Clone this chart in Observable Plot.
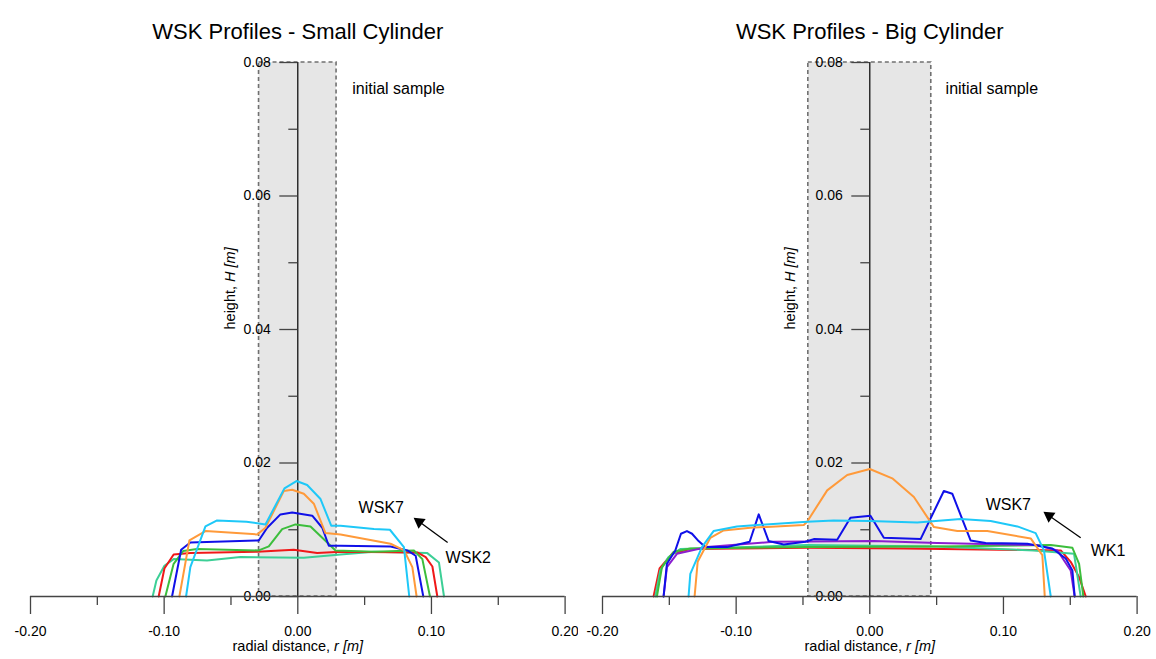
<!DOCTYPE html>
<html><head><meta charset="utf-8">
<script src="https://cdn.jsdelivr.net/npm/d3@7"></script>
<script src="https://cdn.jsdelivr.net/npm/@observablehq/plot@0.6"></script>
<style>
body{margin:0;background:#fff;}
#wrap{display:flex;width:1156px;height:659px;overflow:hidden;}
#wrap svg{display:block;flex:none;}
</style>
</head><body><div id="wrap"></div>
<script>
// ---------- data (radial distance r [m], height H [m]) ----------
const smallCyan = [[-0.0836,0],[-0.0804,0.0044],[-0.0691,0.0105],[-0.0604,0.0114],[-0.0384,0.0112],[-0.0242,0.0108],[-0.0100,0.0162],[-0.0010,0.0173],[0.0070,0.0167],[0.0170,0.0146],[0.0250,0.0106],[0.0320,0.0106],[0.0570,0.0101],[0.0689,0.0100],[0.0794,0.0074],[0.0834,0]];
const smallOrange = [[-0.0886,0],[-0.0811,0.0084],[-0.0691,0.0098],[-0.0304,0.0093],[-0.0242,0.0103],[-0.0105,0.0158],[-0.0042,0.0160],[0.0045,0.0154],[0.0120,0.0139],[0.0207,0.0095],[0.0320,0.0093],[0.0694,0.0079],[0.0796,0.0069],[0.0857,0.0044],[0.0889,0]];
const smallBlue = [[-0.0941,0],[-0.0873,0.0070],[-0.0804,0.0081],[-0.0292,0.0084],[-0.0229,0.0103],[-0.0130,0.0123],[-0.0042,0.0126],[0.0108,0.0121],[0.0183,0.0103],[0.0232,0.0076],[0.0320,0.0076],[0.0694,0.0075],[0.0820,0.0069],[0.0882,0.0061],[0.0939,0]];
const smallGreen = [[-0.0991,0],[-0.0929,0.0049],[-0.0858,0.0068],[-0.0754,0.0071],[-0.0292,0.0069],[-0.0217,0.0075],[-0.0117,0.0101],[-0.0017,0.0108],[0.0095,0.0105],[0.0183,0.0088],[0.0282,0.0069],[0.0570,0.0067],[0.0869,0.0069],[0.0932,0.0056],[0.0989,0]];
const smallRed = [[-0.1041,0],[-0.0998,0.0042],[-0.0929,0.0063],[-0.0804,0.0065],[-0.0304,0.0067],[-0.0030,0.0070],[0.0145,0.0065],[0.0320,0.0067],[0.0894,0.0066],[0.0957,0.0059],[0.1007,0.0045],[0.1044,0]];
const smallTeal = [[-0.1086,0],[-0.1058,0.0024],[-0.0998,0.0046],[-0.0929,0.0056],[-0.0679,0.0054],[-0.0429,0.0059],[0.0045,0.0058],[0.0320,0.0063],[0.0570,0.0067],[0.0969,0.0065],[0.1056,0.0051],[0.1094,0]];

const bigRed = [[-0.1618,0],[-0.1573,0.0042],[-0.1480,0.0064],[-0.1343,0.0071],[-0.0469,0.0073],[0.0255,0.0072],[0.1429,0.0069],[0.1503,0.0052],[0.1566,0.0029],[0.1616,0]];
const bigGreen = [[-0.1593,0],[-0.1555,0.0044],[-0.1468,0.0067],[-0.1343,0.0072],[-0.0469,0.0074],[0.0500,0.0075],[0.1354,0.0077],[0.1516,0.0073],[0.1566,0.0049],[0.1598,0]];
const bigTeal = [[-0.1605,0],[-0.1568,0.0039],[-0.1506,0.0059],[-0.1418,0.0071],[-0.0469,0.0077],[0.0500,0.0075],[0.1229,0.0069],[0.1528,0.0064],[0.1578,0]];
const bigPurple = [[-0.1543,0],[-0.1518,0.0044],[-0.1443,0.0064],[-0.1218,0.0074],[-0.0719,0.0082],[0.0030,0.0083],[0.0505,0.0080],[0.1254,0.0077],[0.1404,0.0069],[0.1503,0.0039],[0.1533,0]];
const bigBlue = [[-0.1543,0],[-0.1518,0.0049],[-0.1455,0.0069],[-0.1413,0.0094],[-0.1368,0.0098],[-0.1330,0.0094],[-0.1281,0.0083],[-0.1231,0.0074],[-0.1068,0.0074],[-0.0899,0.0082],[-0.0831,0.0123],[-0.0757,0.0083],[-0.0644,0.0078],[-0.0482,0.0082],[-0.0419,0.0086],[-0.0244,0.0085],[-0.0145,0.0118],[0.0005,0.0121],[0.0105,0.0088],[0.0380,0.0086],[0.0554,0.0158],[0.0617,0.0154],[0.0754,0.0084],[0.0867,0.0080],[0.1179,0.0079],[0.1366,0.0072],[0.1466,0.0057],[0.1516,0.0039],[0.1533,0]];
const bigOrange = [[-0.1311,0],[-0.1288,0.0052],[-0.1193,0.0088],[-0.1094,0.0099],[-0.0894,0.0103],[-0.0494,0.0107],[-0.0469,0.0112],[-0.0319,0.0159],[-0.0169,0.0182],[0.0000,0.0191],[0.0168,0.0177],[0.0330,0.0149],[0.0480,0.0104],[0.0655,0.0098],[0.0879,0.0098],[0.1204,0.0087],[0.1291,0.0062],[0.1309,0]];
const bigCyan = [[-0.1356,0],[-0.1343,0.0034],[-0.1256,0.0074],[-0.1169,0.0098],[-0.0994,0.0105],[-0.0469,0.0112],[-0.0270,0.0114],[0.0000,0.0113],[0.0355,0.0111],[0.0679,0.0116],[0.0904,0.0113],[0.1104,0.0105],[0.1241,0.0095],[0.1303,0.0069],[0.1354,0]];

const xMajor = [-0.2, -0.1, 0, 0.1, 0.2];
const xMinor = [-0.15, -0.05, 0.05, 0.15];
const xTickLabels = ["-0.20", "-0.10", "0.00", "0.10", "0.20"];
const yMajor = [0, 0.02, 0.04, 0.06, 0.08];
const yMinor = [0.01, 0.03, 0.05, 0.07];
const yTickLabels = ["0.00", "0.02", "0.04", "0.06", "0.08"];

const titles = ["WSK Profiles - Small Cylinder", "WSK Profiles - Big Cylinder"];
const sampleHalfWidth = [0.029, 0.046];
const sampleLabel = "initial sample";
const sampleLabelPos = [[0.0407, 0.0760], [0.0567, 0.0760]];
const annoLabelsSmall = ["WSK7", "WSK2"];
const annoPosSmall = [[0.0455, 0.0133], [0.1106, 0.0058]];
const annoLabelsBig = ["WSK7", "WK1"];
const annoPosBig = [[0.0867, 0.0137], [0.1653, 0.0069]];
// arrow: tail, arrow-head centre, head rotation (deg)
const arrowSmall = {tail: [0.1121, 0.0081], head: [0.0909, 0.0112], rotate: -54};
const arrowBig = {tail: [0.1578, 0.0088], head: [0.1342, 0.0121], rotate: -55};

const colors = {cyan: "#1ec8f8", orange: "#ff9a3a", blue: "#1010e8", green: "#3cbe3c", red: "#f01818", teal: "#3ccf96", purple: "#8a1ed0"};

const smallSeries = [
  [smallTeal, colors.teal], [smallRed, colors.red], [smallGreen, colors.green],
  [smallBlue, colors.blue], [smallOrange, colors.orange], [smallCyan, colors.cyan]
];
const bigSeries = [
  [bigRed, colors.red], [bigTeal, colors.teal], [bigGreen, colors.green], [bigPurple, colors.purple],
  [bigBlue, colors.blue], [bigOrange, colors.orange], [bigCyan, colors.cyan]
];

const FONT = "'Liberation Sans', Arial, sans-serif";
const AX = "#444";

function panel({title, series, half, labelPos, annoLabels, annoPos, arrow, marginLeft, marginRight, ylabelDx}) {
  const marks = [
    Plot.rect([0], {x1: -half, x2: half, y1: 0, y2: 0.08, fill: "#e6e6e6"}),
    Plot.rect([0], {x1: -half, x2: half, y1: 0, y2: 0.08, fill: "none", stroke: "#707070", strokeWidth: 1.6, strokeDasharray: "4,3"}),
    Plot.ruleX([0], {y1: 0, y2: 0.08, stroke: "#000", strokeWidth: 1.2}),
    Plot.ruleY(yMajor, {y: d => d, x1: 0, x2: 0, insetLeft: -18, stroke: AX, strokeWidth: 1.3}),
    Plot.ruleY(yMinor, {y: d => d, x1: 0, x2: 0, insetLeft: -9, stroke: AX, strokeWidth: 1.3}),
    Plot.text(yTickLabels, {x: 0, y: (d, i) => yMajor[i], dx: -27, textAnchor: "end", fontSize: 14, fill: "#000"}),
    ...series.map(([data, c]) => Plot.line(data, {x: d => d[0], y: d => d[1], stroke: c, strokeWidth: 2, strokeLinejoin: "round"})),
    Plot.ruleY([0], {stroke: AX, strokeWidth: 1.3}),
    Plot.ruleX(xMajor, {x: d => d, y1: 0, y2: 0, insetBottom: -18, stroke: AX, strokeWidth: 1.3}),
    Plot.ruleX(xMinor, {x: d => d, y1: 0, y2: 0, insetBottom: -9, stroke: AX, strokeWidth: 1.3}),
    Plot.text(xTickLabels, {x: (d, i) => xMajor[i], y: 0, dy: 35, fontSize: 14, fill: "#000"}),
    Plot.text([title], {frameAnchor: "top", dy: -39, fontSize: 22, fill: "#000"}),
    Plot.text(["radial distance, r [m]"], {frameAnchor: "bottom", dy: 54, fontSize: 14.5, fill: "#000"}),
    Plot.text(["height, H [m]"], {frameAnchor: "left", dx: ylabelDx, rotate: -90, fontSize: 14.5, fill: "#000"}),
    Plot.text([sampleLabel], {x: labelPos[0], y: labelPos[1], textAnchor: "start", fontSize: 16, fill: "#000"}),
    Plot.text(annoLabels, {x: (d, i) => annoPos[i][0], y: (d, i) => annoPos[i][1], textAnchor: "start", fontSize: 16, fill: "#000"}),
    Plot.link([arrow], {x1: d => d.tail[0], y1: d => d.tail[1], x2: d => d.head[0], y2: d => d.head[1], stroke: "#000", strokeWidth: 1.3}),
    Plot.dot([arrow], {x: d => d.head[0], y: d => d.head[1], symbol: "triangle", r: 4.5, fill: "#000", stroke: "none", rotate: arrow.rotate})
  ];
  const svg = Plot.plot({
    width: 578, height: 659,
    marginLeft, marginRight, marginTop: 62, marginBottom: 63,
    x: {domain: [-0.2, 0.2], axis: null},
    y: {domain: [0, 0.08], axis: null},
    style: {fontFamily: FONT, background: "#fff", overflow: "visible"},
    marks
  });
  d3.select(svg).selectAll("text").each(function () {
    const t = this.textContent;
    for (const [plain, ital] of [["height, ", "H [m]"], ["radial distance, ", "r [m]"]]) {
      if (t === plain + ital) {
        const s = d3.select(this);
        s.text(null);
        s.append("tspan").text(plain);
        s.append("tspan").attr("font-style", "italic").text(ital);
      }
    }
  });
  return svg;
}

const wrap = document.getElementById("wrap");
wrap.append(panel({title: titles[0], series: smallSeries, half: sampleHalfWidth[0], labelPos: sampleLabelPos[0],
  annoLabels: annoLabelsSmall, annoPos: annoPosSmall, arrow: arrowSmall, marginLeft: 30, marginRight: 13.4, ylabelDx: 200}));
wrap.append(panel({title: titles[1], series: bigSeries, half: sampleHalfWidth[1], labelPos: sampleLabelPos[1],
  annoLabels: annoLabelsBig, annoPos: annoPosBig, arrow: arrowBig, marginLeft: 24, marginRight: 19.4, ylabelDx: 188}));
</script></body></html>
